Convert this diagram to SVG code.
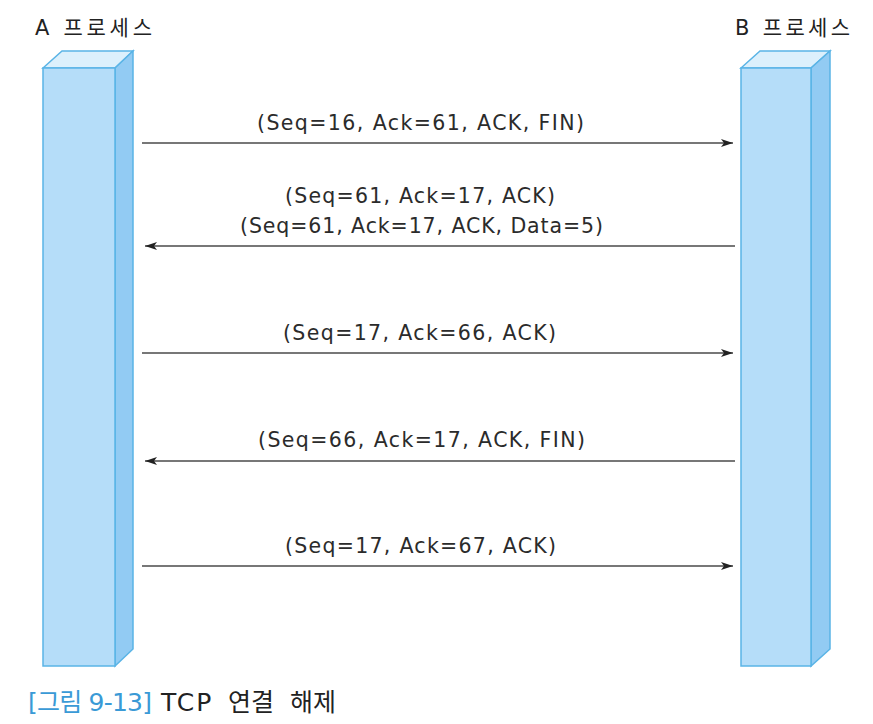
<svg xmlns="http://www.w3.org/2000/svg" width="873" height="724" viewBox="0 0 873 724">
<defs>
<style>
.t{font-family:"DejaVu Sans","Noto Sans CJK KR",sans-serif;font-size:20.5px;fill:#2b2b2b}
.h{font-family:"DejaVu Sans","Noto Sans CJK KR",sans-serif;font-size:21px;fill:#222}
.c{font-family:"DejaVu Sans","Noto Sans CJK KR",sans-serif;font-size:25px}
.front{fill:#b5ddf9;stroke:#5ab4e6;stroke-width:1.5}
.side{fill:#92cbf3;stroke:#5ab4e6;stroke-width:1.5}
.top{fill:#dcf0fc;stroke:#5ab4e6;stroke-width:1.5}
.ln{stroke:#4a4a4a;stroke-width:1.3;fill:none}
</style>
<marker id="ah" viewBox="0 0 12 8" refX="12" refY="4" markerWidth="12" markerHeight="8" markerUnits="userSpaceOnUse" orient="auto">
<path d="M0,0 L12,4 L0,8 L3,4 Z" fill="#222"/>
</marker>
</defs>
<rect width="873" height="724" fill="#fff"/>
<g id="procA">
<text class="h" x="35" y="35" textLength="117" lengthAdjust="spacing">A 프로세스</text>
<polygon class="top" points="43,68 62,51 133,51 115,68"/>
<polygon class="side" points="115,68 133,51 133,649 115,666"/>
<rect class="front" x="43" y="68" width="72" height="598"/>
</g>
<g id="procB">
<text class="h" x="735" y="35" textLength="115" lengthAdjust="spacing">B 프로세스</text>
<polygon class="top" points="741,68 760,51 830,51 811,68"/>
<polygon class="side" points="811,68 830,51 830,649 811,666"/>
<rect class="front" x="741" y="68" width="70" height="598"/>
</g>
<g id="connectors">
<line class="ln" x1="142" y1="143" x2="733" y2="143" marker-end="url(#ah)"/>
<line class="ln" x1="735" y1="246" x2="145" y2="246" marker-end="url(#ah)"/>
<line class="ln" x1="142" y1="353" x2="733" y2="353" marker-end="url(#ah)"/>
<line class="ln" x1="735" y1="461" x2="145" y2="461" marker-end="url(#ah)"/>
<line class="ln" x1="142" y1="566" x2="733" y2="566" marker-end="url(#ah)"/>
</g>
<g id="labels">
<text class="t" x="257" y="130" textLength="327" lengthAdjust="spacing">(Seq=16, Ack=61, ACK, FIN)</text>
<text class="t" x="285" y="203" textLength="270" lengthAdjust="spacing">(Seq=61, Ack=17, ACK)</text>
<text class="t" x="240" y="233" textLength="363" lengthAdjust="spacing">(Seq=61, Ack=17, ACK, Data=5)</text>
<text class="t" x="283" y="340" textLength="273" lengthAdjust="spacing">(Seq=17, Ack=66, ACK)</text>
<text class="t" x="258" y="447" textLength="327" lengthAdjust="spacing">(Seq=66, Ack=17, ACK, FIN)</text>
<text class="t" x="285" y="553" textLength="271" lengthAdjust="spacing">(Seq=17, Ack=67, ACK)</text>
</g>
<g id="caption">
<text class="c" x="28" y="711" fill="#3a9ad6" textLength="124" lengthAdjust="spacing">[그림 9-13]</text>
<text class="c" y="711" fill="#222"><tspan x="161" letter-spacing="2">TCP</tspan> <tspan x="228">연결</tspan> <tspan x="290">해제</tspan></text>
</g>
</svg>
